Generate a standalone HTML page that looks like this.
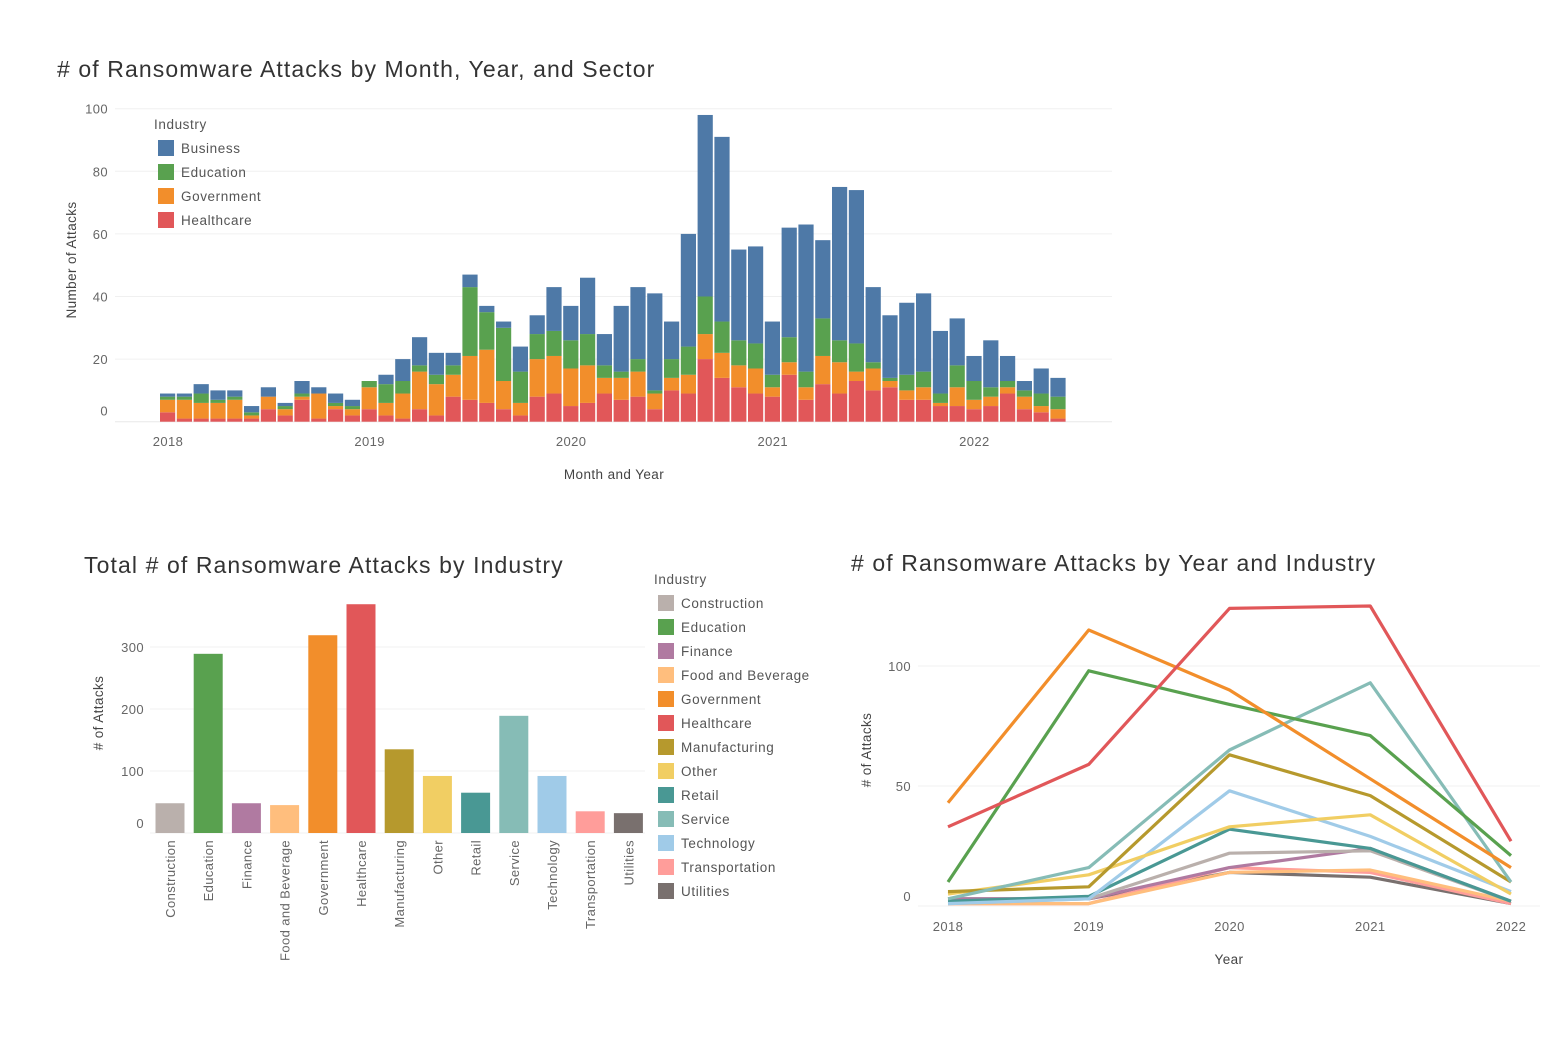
<!DOCTYPE html>
<html><head><meta charset="utf-8">
<style>
html,body{margin:0;padding:0;background:#fff;}
svg{display:block;font-family:"Liberation Sans",sans-serif;}
.t{font-size:23px;fill:#333;font-weight:300;letter-spacing:1.1px;}
.tk{font-size:13px;fill:#666;letter-spacing:0.4px;}
.ax{font-size:13.5px;fill:#444;letter-spacing:0.4px;}
.lg{font-size:13.5px;fill:#555;letter-spacing:0.6px;}
</style></head>
<body>
<svg id="s" width="1568" height="1056" xmlns="http://www.w3.org/2000/svg">
<rect x="0" y="0" width="1568" height="1056" fill="#fff"/>
<text class="t" x="57" y="77"># of Ransomware Attacks by Month, Year, and Sector</text>
<text class="t" x="84" y="573">Total # of Ransomware Attacks by Industry</text>
<text class="t" x="851" y="571"># of Ransomware Attacks by Year and Industry</text>
<g id="top"></g>
<g id="bl"></g>
<g id="lc"></g>
</svg>
<script>
// ---- Top chart data ----
const business   = [1,1,3,3,2,2,3,1,4,2,3,2,0,3,7,9,7,4,4,2,2,8,6,14,11,18,10,21,23,31,12,36,58,59,29,31,17,35,47,25,49,49,24,20,23,25,20,15,8,15,8,3,8,6];
const education  = [1,1,3,1,1,1,0,1,1,0,1,1,2,6,4,2,3,3,22,12,17,10,8,8,9,10,4,2,4,1,6,9,12,10,8,8,4,8,5,12,7,9,2,1,5,5,3,7,6,3,2,2,4,4];
const government = [4,6,5,5,6,1,4,2,1,8,1,2,7,4,8,12,10,7,14,17,9,4,12,12,12,12,5,7,8,5,4,6,8,8,7,8,3,4,4,9,10,3,7,2,3,4,1,6,3,3,2,4,2,3];
const healthcare = [3,1,1,1,1,1,4,2,7,1,4,2,4,2,1,4,2,8,7,6,4,2,8,9,5,6,9,7,8,4,10,9,20,14,11,9,8,15,7,12,9,13,10,11,7,7,5,5,4,5,9,4,3,1];
const topYTicks = [0,20,40,60,80,100];
const topXTicks = ["2018","2019","2020","2021","2022"];
const sectorNames = ["Business","Education","Government","Healthcare"];
const sectorColors = ["#4e79a7","#59a14f","#f28e2b","#e15759"];

// ---- Bottom-left data ----
const industries = ["Construction","Education","Finance","Food and Beverage","Government","Healthcare","Manufacturing","Other","Retail","Service","Technology","Transportation","Utilities"];
const totals = [48,289,48,45,319,369,135,92,65,189,92,35,32];
const indColors = ["#bab0ac","#59a14f","#b07aa1","#ffbe7d","#f28e2b","#e15759","#b6992d","#f1ce63","#499894","#86bcb6","#a0cbe8","#ff9d9a","#79706e"];
const blYTicks = [0,100,200,300];

// ---- Line chart data ----
const years = ["2018","2019","2020","2021","2022"];
const sConstruction = [1,3,22,23,2];
const sEducation = [10,98,84,71,21];
const sFinance = [3,3,16,24,2];
const sFood = [1,1,14,15,2];
const sGovernment = [43,115,90,53,16];
const sHealthcare = [33,59,124,125,27];
const sManufacturing = [6,8,63,46,10];
const sOther = [5,13,33,38,5];
const sRetail = [2,4,32,24,2];
const sService = [3,16,65,93,10];
const sTechnology = [1,3,48,29,6];
const sTransportation = [1,1,16,14,1];
const sUtilities = [3,3,14,12,1];
const lcYTicks = [0,50,100];

const NS="http://www.w3.org/2000/svg";
function mk(parent,tag,attrs,text){const e=document.createElementNS(NS,tag);for(const k in attrs)e.setAttribute(k,attrs[k]);if(text!==undefined)e.textContent=text;parent.appendChild(e);return e;}

// ===== Top chart =====
(function(){
const g=document.getElementById('top');
const y0=421.7, k=3.13;
const ty=v=>y0-v*k;
const tx=i=>160+i*16.8;
topYTicks.forEach(v=>{
  const l=mk(g,'line',{x1:115,x2:1112,y1:ty(v),y2:ty(v),stroke:v===0?'#e8e8e8':'#f0f0f0','stroke-width':1});
  
  
  const t=mk(g,'text',{x:108,y:ty(v)+(v===0?-6:5),'text-anchor':'end',class:'tk'},String(v));
  
  
});
topXTicks.forEach((s,i)=>{
  const t=mk(g,'text',{x:tx(i*12)+8,y:446,'text-anchor':'middle',class:'tk'},s);
  
  
});
const series=[healthcare,government,education,business];
const cols=["#e15759","#f28e2b","#59a14f","#4e79a7"];
const names=["healthcare","government","education","business"];
for(let i=0;i<business.length;i++){
  let acc=0;
  series.forEach((arr,j)=>{
    const v=arr[i]; if(v<=0) return;
    const r=mk(g,'rect',{x:tx(i),y:ty(acc+v),width:15.2,height:v*k,fill:cols[j]});
    
    
    acc+=v;
  });
}
const yt=mk(g,'text',{x:0,y:0,class:'ax',transform:'translate(76,260) rotate(-90)','text-anchor':'middle','font-size':'12.5'},'Number of Attacks');


const xt=mk(g,'text',{x:614,y:479,class:'ax','text-anchor':'middle'},'Month and Year');


const lt=mk(g,'text',{x:154,y:129,class:'lg','font-size':'14'},'Industry');


sectorNames.forEach((n,i)=>{
  const r=mk(g,'rect',{x:158,y:140+i*24,width:16,height:16,fill:sectorColors[i]});
  
  
  const t=mk(g,'text',{x:181,y:153+i*24,class:'lg'},n);
  
  
});
})();

// ===== Bottom-left =====
(function(){
const g=document.getElementById('bl');
const y0=833, k=0.62;
const by=v=>y0-v*k;
const bx=i=>170+i*38.2;
blYTicks.forEach(v=>{
  const l=mk(g,'line',{x1:150,x2:645,y1:by(v),y2:by(v),stroke:'#f2f2f2'});
  
  
  const t=mk(g,'text',{x:144,y:by(v)+(v===0?-5:5),'text-anchor':'end',class:'tk'},String(v));
  
  
});
industries.forEach((n,i)=>{
  const r=mk(g,'rect',{x:bx(i)-14.5,y:by(totals[i]),width:29,height:totals[i]*k,fill:indColors[i]});
  
  
  const t=mk(g,'text',{x:0,y:0,class:'tk','text-anchor':'end',transform:'translate('+(bx(i)+5)+',840) rotate(-90)','font-size':'13.5'},n);
  
  
});
const yt=mk(g,'text',{x:0,y:0,class:'ax',transform:'translate(103,713) rotate(-90)','text-anchor':'middle','font-size':'12.5'},'# of Attacks');


const lt=mk(g,'text',{x:654,y:584,class:'lg','font-size':'14'},'Industry');


industries.forEach((n,i)=>{
  const r=mk(g,'rect',{x:658,y:595+i*24,width:16,height:16,fill:indColors[i]});
  
  
  const t=mk(g,'text',{x:681,y:608+i*24,class:'lg'},n);
  
  
});
})();

// ===== Line chart =====
(function(){
const g=document.getElementById('lc');
const y0=906, k=2.4;
const ly=v=>y0-v*k;
const lx=i=>948+i*140.75;
lcYTicks.forEach(v=>{
  const l=mk(g,'line',{x1:918,x2:1540,y1:ly(v),y2:ly(v),stroke:'#f0f0f0'});
  
  
  const t=mk(g,'text',{x:911,y:ly(v)+(v===0?-5:5),'text-anchor':'end',class:'tk'},String(v));
  
  
});
years.forEach((y,i)=>{
  const t=mk(g,'text',{x:lx(i),y:931,'text-anchor':'middle',class:'tk'},y);
  
  
});
const all=[sConstruction,sEducation,sFinance,sFood,sGovernment,sHealthcare,sManufacturing,sOther,sRetail,sService,sTechnology,sTransportation,sUtilities];
const order=[12,11,3,2,0,8,10,7,6,9,1,4,5];
order.forEach(j=>{
  const d=all[j].map((v,i)=>(i?'L':'M')+lx(i)+','+ly(v)).join(' ');
  const p=mk(g,'path',{d:d,fill:'none',stroke:indColors[j],'stroke-width':3.2,'stroke-linejoin':'round'});
  
  
});
const yt=mk(g,'text',{x:0,y:0,class:'ax',transform:'translate(871,750) rotate(-90)','text-anchor':'middle','font-size':'12.5'},'# of Attacks');


const xt=mk(g,'text',{x:1229,y:964,class:'ax','text-anchor':'middle'},'Year');


})();
</script>
</body></html>
